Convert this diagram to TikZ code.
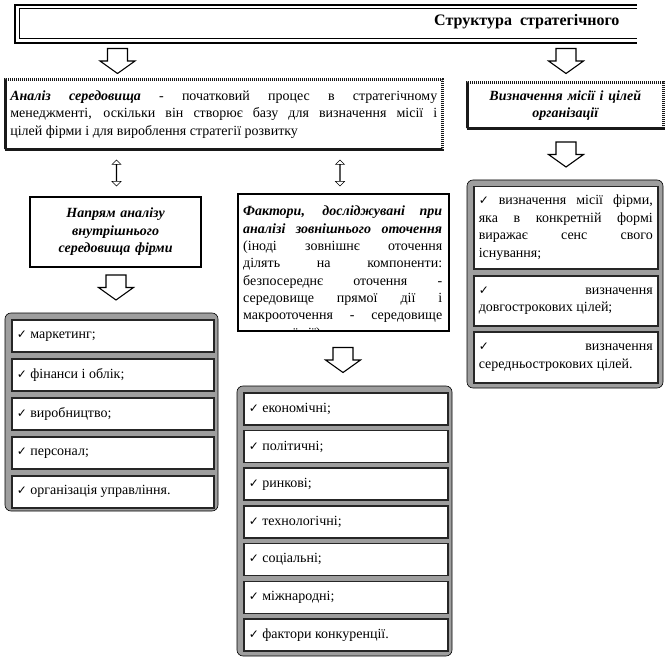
\documentclass[tikz,border=0pt]{standalone}
\usepackage{fontspec}
\setmainfont{Liberation Serif}
\newfontfamily\symfont{DejaVu Sans}
\usetikzlibrary{shapes.arrows, positioning, calc}
\newcommand{\chk}{{\symfont\fontsize{12}{12}\selectfont ✓}}

\begin{document}
\begin{tikzpicture}[
    x=1pt, y=-1pt,
    font=\fontsize{14}{17.5}\selectfont,
    dotbox/.style={draw=black!90, line width=2.6pt, dash pattern=on 1.4pt off 0.6pt, fill=white, anchor=north west, inner xsep=5pt, inner ysep=3pt},
    headbox/.style={draw=black, line width=2.2pt, fill=white, anchor=north west, inner xsep=5pt, inner ysep=3pt},
    group/.style={draw=black, line width=0.6pt, fill=black!38, rounded corners=6pt},
    item/.style={draw=black!85, line width=1.5pt, fill=white, anchor=north west, align=justify, inner xsep=5pt, inner ysep=2pt},
    updown/.style={double arrow, draw, line width=0.5pt, fill=white, shape border rotate=90, minimum height=26pt, minimum width=9pt, double arrow head extend=2.5pt, inner sep=0pt},
    blockdown/.pic={\draw[line width=1.1pt, fill=white] (-10,-12.5) -- (-10,0) -- (-17.5,0) -- (0,12.5) -- (17.5,0) -- (10,0) -- (10,-12.5) -- cycle;}
]
\useasboundingbox (0,0) rectangle (667,658);

% Title
\draw[line width=2.2pt] (637,5) -- (15,5) -- (15,43) -- (637,43);
\draw[line width=1pt] (637,9) -- (19,9) -- (19,39) -- (637,39);
\node[font=\fontsize{16}{18}\selectfont\bfseries, anchor=east] (title) at (623,22) {Структура\ \ стратегічного};

% Block arrows
\pic (arr1) at (117.5,61) {blockdown};
\pic (arr2) at (566,61) {blockdown};
\pic (arr3) at (566,154.5) {blockdown};
\pic (arr4) at (116,287.5) {blockdown};
\pic (arr5) at (343,360) {blockdown};

% Analysis and mission
\node[dotbox, text width=427pt, minimum height=70pt, align=justify] (analysis) at (4,78)
  {\textbf{\textit{Аналіз середовища}} - початковий процес в стратегічному\linebreak менеджменті, оскільки він створює базу для визначення місії і\linebreak цілей фірми і для вироблення стратегії розвитку\par\vspace*{12pt}};
\node[dotbox, text width=186pt, minimum height=46pt, align=center, font=\fontsize{14}{17.5}\selectfont\bfseries\itshape] (mission) at (466,81)
  {Визначення місії і цілей\\організації\par\vspace*{4pt}};

% Links
\node[updown] (link1) at (116.5,173) {};
\node[updown] (link2) at (340,173) {};

% Internal and external
\node[headbox, text width=161pt, minimum height=70pt, align=center, font=\fontsize{14}{17.5}\selectfont\bfseries\itshape] (inner) at (29,196)
  {Напрям аналізу\\внутрішнього\\середовища фірми};
\node[headbox, minimum width=211pt, minimum height=137pt, inner sep=0pt] (outer) at (237,193) {};
\begin{scope}
  \clip ($(outer.north west)+(2,2)$) rectangle ($(outer.south east)+(-2,-2)$);
  \node[anchor=north west, text width=199pt, align=justify, inner sep=0pt, font=\fontsize{14}{17.3}\selectfont] (outertext) at (243,206)
    {\textbf{\textit{Фактори, досліджувані при\linebreak аналізі зовнішнього оточення}}\linebreak (іноді зовнішнє оточення\linebreak ділять на компоненти:\linebreak безпосереднє оточення -\linebreak середовище прямої дії і\linebreak макрооточення - середовище\linebreak непрямої дії)};
\end{scope}

% Left list
\draw[group] (5,313) rectangle (218,511);
\foreach \txt [count=\i] in {маркетинг;, фінанси і облік;, виробництво;, персонал;, організація управління.}
  \node[item, text width=192pt, minimum height=32pt] (left\i) at (11,{319+(\i-1)*39}) {\chk\ \txt};

% Middle list
\draw[group] (237,386) rectangle (452,656);
\foreach \txt [count=\i] in {економічні;, політичні;, ринкові;, технологічні;, соціальні;, міжнародні;, фактори конкуренції.}
  \node[item, text width=194pt, minimum height=32pt] (mid\i) at (243,{392+(\i-1)*37.7}) {\chk\ \txt};

% Right list
\draw[group] (467,180) rectangle (663,388);
\node[item, text width=174pt, minimum height=82pt] (right1) at (473,186)
  {\chk\ визначення місії фірми,\linebreak яка в конкретній формі\linebreak виражає сенс свого\linebreak існування;};
\node[item, text width=174pt, minimum height=50pt] (right2) at (473,275)
  {\chk\ визначення\linebreak довгострокових цілей;};
\node[item, text width=174pt, minimum height=51pt] (right3) at (473,331)
  {\chk\ визначення\linebreak середньострокових цілей.};

\end{tikzpicture}
\end{document}
